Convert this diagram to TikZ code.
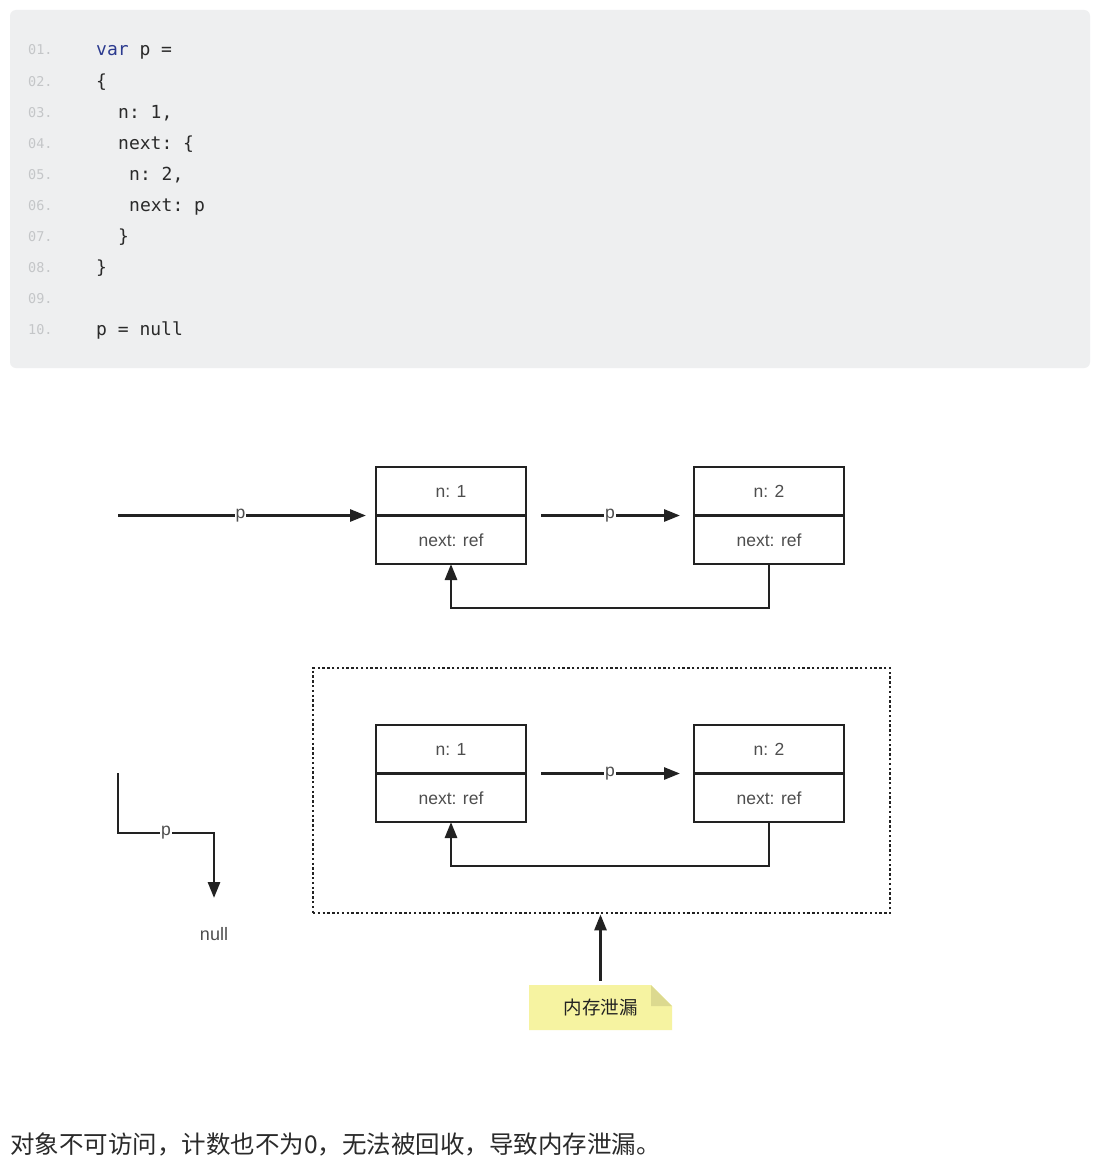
\documentclass[tikz,border=0pt]{standalone}
\usepackage{fontspec}
\setmainfont{Liberation Sans}
\setmonofont{DejaVu Sans Mono}
\newfontfamily\cjk{Noto Sans CJK SC}
\usepackage{xcolor}
\usetikzlibrary{arrows.meta,positioning}
\definecolor{codebg}{HTML}{EEEFF0}
\definecolor{linenum}{HTML}{C4C6C8}
\definecolor{codefg}{HTML}{2A2A2A}
\definecolor{kw}{HTML}{2B3A8F}
\definecolor{ink}{HTML}{222222}
\definecolor{muted}{HTML}{4E4E4E}
\definecolor{note}{HTML}{F6F3A1}
\definecolor{notefold}{HTML}{DCD98F}
\tikzset{
  cell/.style={draw=ink, line width=2.8pt, minimum width=150pt, minimum height=48.5pt,
    outer sep=0pt, inner sep=0pt, text=muted, font=\fontsize{17.5}{20}\selectfont},
  link/.style={draw=ink, line width=2.8pt, -{Triangle[length=16pt,width=12pt]}},
  tag/.style={fill=white, inner sep=1pt, text=muted, font=\fontsize{17.5}{20}\selectfont},
  lab/.style={text=muted, font=\fontsize{18}{20}\selectfont},
  code/.style={anchor=base west, inner sep=0pt, text=codefg, font=\ttfamily\fontsize{18}{20}\selectfont},
  num/.style={anchor=base west, inner sep=0pt, text=linenum, font=\ttfamily\fontsize{13.5}{14}\selectfont},
  frame/.style={draw=ink, line width=2.8pt, dash pattern=on 2.4pt off 2.4pt,
    minimum width=577pt, minimum height=245pt, inner sep=0pt},
}

\begin{document}
\begin{tikzpicture}[x=1pt,y=-1pt]
  \useasboundingbox (0,0) rectangle (1112,1172);
  \fill[white] (0,0) rectangle (1112,1172);

  % code panel
  \fill[codebg, rounded corners=6pt] (10,10) rectangle (1090,368);
  \foreach \i/\t in {1/01,2/02,3/03,4/04,5/05,6/06,7/07,8/08,9/09,10/10}
    \node[num] at (28,{24+31*\i}) {\t.};
  \node[code] (c1) at (96,56) {\textcolor{kw}{var} p =};
  \node[code] (c2) at (96,87) {\{};
  \node[code] (c3) at (118,118) {n: 1,};
  \node[code] (c4) at (118,149) {next: \{};
  \node[code] (c5) at (129,180) {n: 2,};
  \node[code] (c6) at (129,211) {next: p};
  \node[code] (c7) at (118,242) {\}};
  \node[code] (c8) at (96,273) {\}};
  \node[code] (c10) at (96,335) {p = null};

  % before: p points to the cycle
  \node[cell] (a1) at (451,491.25) {n: 1};
  \node[cell, below=0pt of a1] (a1r) {next: ref};
  \node[cell] (a2) at (769,491.25) {n: 2};
  \node[cell, below=0pt of a2] (a2r) {next: ref};
  \coordinate (pin) at ([xshift=-258pt]a1.south west);

  \draw[link, shorten >=10pt] (pin) -- node[tag, pos=0.475] {p} (a1.south west);
  \draw[link, shorten <=15pt, shorten >=14pt] (a1.south east) -- node[tag] {p} (a2.south west);
  \draw[link] (a2r.south) -- ++(0,44) -| (a1r.south);

  % after: p = null
  \node[cell] (b1) at (451,749.25) {n: 1};
  \node[cell, below=0pt of b1] (b1r) {next: ref};
  \node[cell] (b2) at (769,749.25) {n: 2};
  \node[cell, below=0pt of b2] (b2r) {next: ref};

  \draw[link, shorten <=15pt, shorten >=14pt] (b1.south east) -- node[tag] {p} (b2.south west);
  \draw[link] (b2r.south) -- ++(0,44) -| (b1r.south);

  \node[frame] (leak) at (601.5,790.5) {};

  \coordinate (pold) at (118,773);
  \node[lab, anchor=north] (null) at (214,924) {null};
  \draw[link, shorten >=26pt] (pold) -- ++(0,60) -| node[tag, pos=0.25] {p} (null.north);

  % note
  \fill[note] (529,985) -- (651,985) -- (672,1006) -- (672,1030) -- (529,1030) -- cycle;
  \fill[notefold] (651,985) -- (672,1006) -- (651,1006) -- cycle;
  \node[inner sep=0pt, minimum width=143pt, minimum height=45pt, text=ink,
    font=\cjk\fontsize{18.5}{20}\selectfont] (memo) at (600.5,1007.5) {内存泄漏};
  \draw[link, shorten <=4pt] (memo.north) -- (memo.north |- leak.south);

  \node[anchor=base west, inner sep=0pt, text=codefg, font=\cjk\fontsize{24.5}{26}\selectfont]
    (summary) at (10,1153) {对象不可访问，计数也不为0，无法被回收，导致内存泄漏。};
\end{tikzpicture}
\end{document}
